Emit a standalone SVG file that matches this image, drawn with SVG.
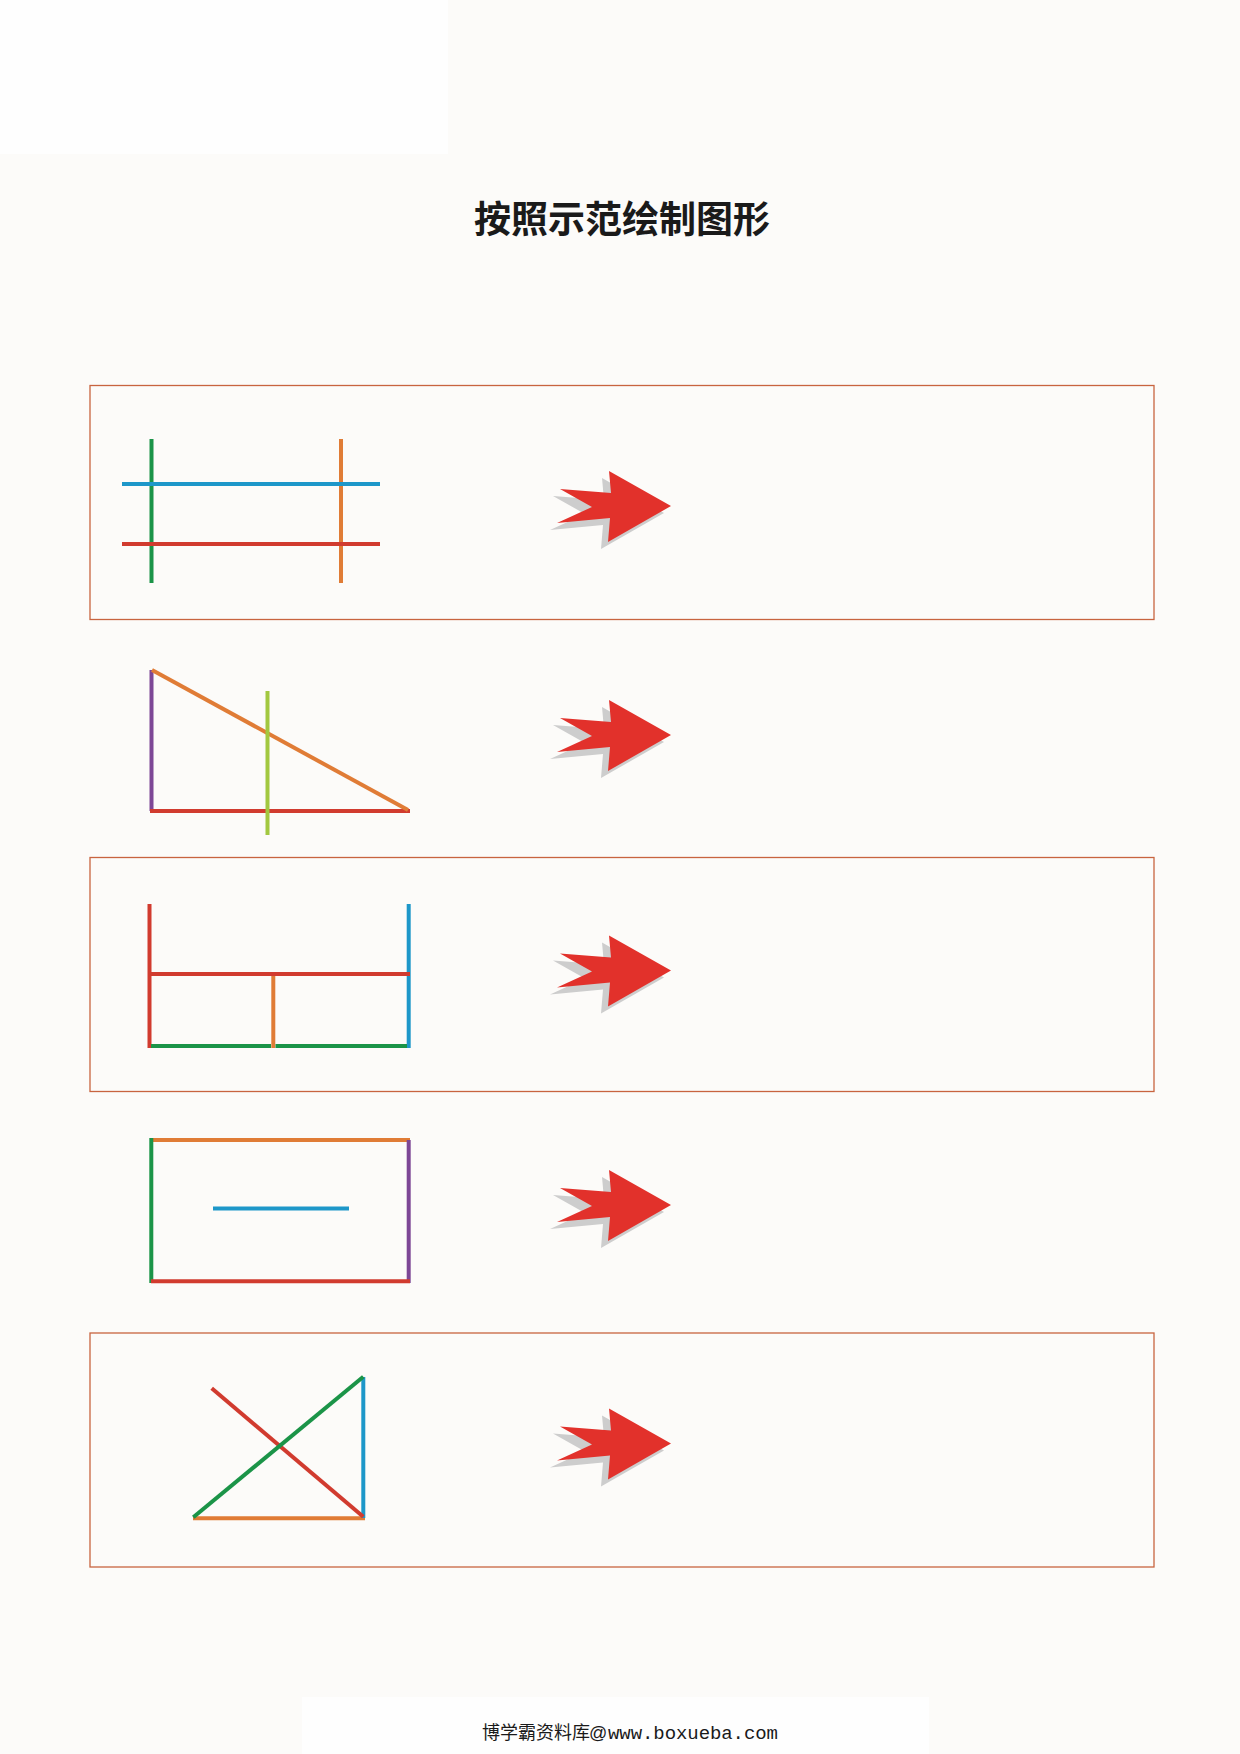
<svg xmlns="http://www.w3.org/2000/svg" width="1240" height="1754" viewBox="0 0 1240 1754">
<style>
.box{fill:none;stroke:#c8643f;stroke-width:1.3}
.ln{stroke-width:4;stroke-linecap:butt;fill:none}
.g{stroke:#1b9448}.b{stroke:#1d97c9}.r{stroke:#d13b2f}.o{stroke:#e07c36}.p{stroke:#7d4796}.l{stroke:#a2c840}
.title{font-family:"Noto Sans CJK SC","Noto Sans",sans-serif;font-size:37px;font-weight:bold;fill:#1a1a1a}
</style>
<defs>
<g id="arrow">
<polygon points="664,7 602,-28 604,-6 553,-10 585,8 550,24 603,19 601,43" fill="#cdcdcd"/>
<polygon points="671,0 609,-35 611,-13 560,-17 592,1 557,17 610,12 608,36" fill="#e2312b"/>
</g>
</defs>
<rect x="0" y="0" width="1240" height="1754" fill="#fcfbf9"/>
<rect x="0" y="0" width="448" height="154" fill="#fefefe"/>
<rect x="302" y="1697" width="627" height="57" fill="#fefefe"/>
<text class="title" x="622" y="233" text-anchor="middle">按照示范绘制图形</text>

<g id="frames">
<rect class="box" x="90" y="385.5" width="1064" height="234"/>
<rect class="box" x="90" y="857.5" width="1064" height="234"/>
<rect class="box" x="90" y="1333" width="1064" height="234"/>
</g>

<g id="figure1">
<line class="ln g" x1="151.5" y1="439" x2="151.5" y2="583"/>
<line class="ln o" x1="341" y1="439" x2="341" y2="583"/>
<line class="ln b" x1="122" y1="484" x2="380" y2="484"/>
<line class="ln r" x1="122" y1="544" x2="380" y2="544"/>
</g>

<g id="figure2">
<line class="ln p" x1="151.5" y1="670" x2="151.5" y2="811"/>
<line class="ln r" x1="150" y1="811" x2="410" y2="811"/>
<line class="ln o" x1="152" y1="670" x2="408" y2="810"/>
<line class="ln l" x1="267.5" y1="691" x2="267.5" y2="835"/>
</g>

<g id="figure3">
<line class="ln r" x1="149.5" y1="904" x2="149.5" y2="1048"/>
<line class="ln b" x1="408.7" y1="904" x2="408.7" y2="1048"/>
<line class="ln r" x1="150" y1="974" x2="410" y2="974"/>
<line class="ln o" x1="273.3" y1="976" x2="273.3" y2="1048"/>
<line class="ln g" x1="151" y1="1046" x2="271" y2="1046"/>
<line class="ln g" x1="275.5" y1="1046" x2="407" y2="1046"/>
</g>

<g id="figure4">
<line class="ln o" x1="151" y1="1140" x2="410" y2="1140"/>
<line class="ln p" x1="408.7" y1="1140" x2="408.7" y2="1283"/>
<line class="ln g" x1="151.3" y1="1138" x2="151.3" y2="1283"/>
<line class="ln r" x1="151" y1="1281.3" x2="410" y2="1281.3"/>
<line class="ln b" x1="213" y1="1208.5" x2="349" y2="1208.5" stroke-linecap="round"/>
</g>

<g id="figure5">
<line class="ln o" x1="193" y1="1518.3" x2="365" y2="1518.3"/>
<line class="ln b" x1="363.3" y1="1377" x2="363.3" y2="1518"/>
<line class="ln r" x1="211.7" y1="1388.3" x2="363.3" y2="1516.7"/>
<line class="ln g" x1="193.3" y1="1517.3" x2="363.3" y2="1376.7"/>
</g>

<g id="connectors">
<use href="#arrow" transform="translate(0,506)"/>
<use href="#arrow" transform="translate(0,735)"/>
<use href="#arrow" transform="translate(0,970.5)"/>
<use href="#arrow" transform="translate(0,1205)"/>
<use href="#arrow" transform="translate(0,1443.5)"/>
</g>

<text y="1739" fill="#1a1a1a"><tspan x="482" font-family="'Noto Sans CJK SC',sans-serif" font-size="18">博学霸资料库</tspan><tspan x="589" font-family="'Liberation Sans',sans-serif" font-size="18">@</tspan><tspan x="608" font-family="'Liberation Mono',monospace" font-size="19" textLength="170">www.boxueba.com</tspan></text>
</svg>
